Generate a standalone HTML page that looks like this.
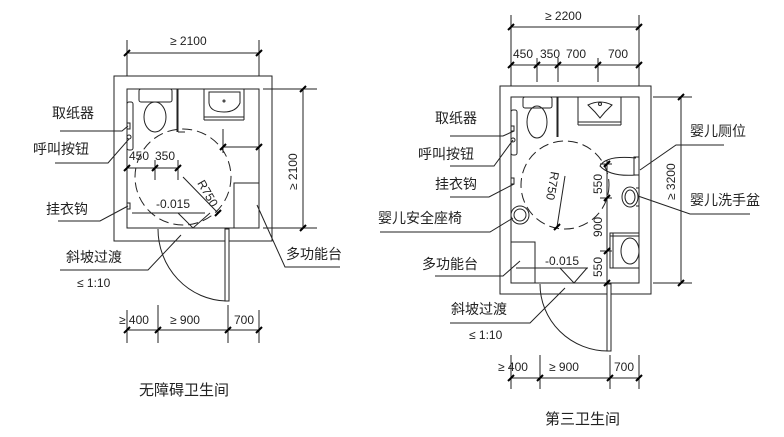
<!DOCTYPE html>
<html><head><meta charset="utf-8"><style>
html,body{margin:0;padding:0;background:#fff;}
svg{display:block}
text{font-family:"Liberation Sans","Noto Sans CJK SC",sans-serif;fill:#222}
.l{font-size:14px}
.d{font-size:12px}
</style></head><body>
<svg width="784" height="437" viewBox="0 0 784 437" xmlns="http://www.w3.org/2000/svg">
<defs>
<g id="tk"><line x1="-3" y1="3" x2="3" y2="-3" stroke="#000" stroke-width="2"/></g>
</defs>
<g fill="none" stroke="#222" stroke-width="1">
<!-- ===== LEFT ===== -->
<rect x="114" y="76" width="158" height="165"/>
<rect x="127" y="89" width="132" height="139"/>
<line x1="127" y1="40" x2="127" y2="76"/><line x1="259" y1="40" x2="259" y2="76"/>
<line x1="127" y1="53" x2="259" y2="53"/>
<line x1="263" y1="89" x2="317" y2="89"/><line x1="263" y1="228" x2="317" y2="228"/>
<line x1="303" y1="89" x2="303" y2="228"/>
<line x1="127" y1="310" x2="127" y2="343"/><line x1="158" y1="305" x2="158" y2="343"/>
<line x1="228" y1="305" x2="228" y2="343"/><line x1="259" y1="310" x2="259" y2="343"/>
<line x1="127" y1="330" x2="259" y2="330"/>
<rect x="225" y="229" width="4" height="72" fill="#fff"/>
<path d="M158 229 A70 72 0 0 0 226 301"/>
<rect x="139" y="89" width="33" height="13" rx="2"/>
<ellipse cx="155" cy="117" rx="11" ry="15"/>
<line x1="178" y1="89" x2="178" y2="132"/><line x1="177" y1="89" x2="177" y2="132"/>
<line x1="178" y1="132" x2="185" y2="132"/>
<path d="M204 89 V120 M244 89 V120 M204 117 H244 M204 120 H244"/>
<path d="M209 92 H240 V103 Q236 112 224 112 Q210 112 209 103 Z"/>
<circle cx="224" cy="101" r="1"/>
<rect x="127" y="102" width="6" height="48" rx="2"/>
<rect x="127" y="123" width="3" height="6"/><circle cx="129" cy="137" r="2"/>
<rect x="127" y="203" width="3" height="6"/>
<circle cx="183" cy="177" r="48" stroke-dasharray="10,5"/>
<line x1="183" y1="177" x2="218" y2="213"/>
<line x1="223" y1="129" x2="223" y2="153"/><line x1="223" y1="147" x2="259" y2="147"/>
<line x1="127" y1="168" x2="178" y2="168"/>
<line x1="155" y1="160" x2="155" y2="180"/><line x1="178" y1="160" x2="178" y2="180"/>
<rect x="234" y="183" width="25" height="45"/>
<line x1="132" y1="213" x2="205" y2="213"/>
<path d="M178 213 L193 228 L210 213"/>
<path d="M60 131 H122 L128 126"/>
<path d="M55 163 H108 L129 139"/>
<path d="M58 221 H100 L128 206"/>
<path d="M60 270 H148 L181 235"/>
<path d="M340 267 H285 L257 205"/>
</g>
<g>
<use href="#tk" x="127" y="53"/><use href="#tk" x="259" y="53"/>
<use href="#tk" x="303" y="89"/><use href="#tk" x="303" y="228"/>
<use href="#tk" x="127" y="330"/><use href="#tk" x="158" y="330"/><use href="#tk" x="228" y="330"/><use href="#tk" x="259" y="330"/>
<use href="#tk" x="127" y="168"/><use href="#tk" x="155" y="168"/><use href="#tk" x="178" y="168"/>
<use href="#tk" x="223" y="147"/><use href="#tk" x="259" y="147"/><use href="#tk" x="218" y="213"/>
</g>
<text class="d" x="170" y="45">≥ 2100</text>
<text class="d" transform="translate(297,190) rotate(-90)">≥ 2100</text>
<text class="d" x="119" y="324">≥ 400</text>
<text class="d" x="170" y="324">≥ 900</text>
<text class="d" x="234" y="324">700</text>
<text class="d" x="129" y="160">450</text>
<text class="d" x="155" y="160">350</text>
<text class="d" transform="translate(197,183) rotate(60)">R750</text>
<text class="d" x="156" y="208">-0.015</text>
<text class="l" x="52" y="118">取纸器</text>
<text class="l" x="33" y="154">呼叫按钮</text>
<text class="l" x="46" y="214">挂衣钩</text>
<text class="l" x="66" y="262">斜坡过渡</text>
<text class="d" x="77" y="287">≤ 1:10</text>
<text class="l" x="286" y="259">多功能台</text>
<text x="139" y="395" style="font-size:15px">无障碍卫生间</text>

<g fill="none" stroke="#222" stroke-width="1">
<!-- ===== RIGHT ===== -->
<rect x="500" y="86" width="151" height="208"/>
<rect x="511" y="97" width="128" height="186"/>
<line x1="511" y1="15" x2="511" y2="86"/><line x1="639" y1="15" x2="639" y2="86"/>
<line x1="511" y1="27" x2="639" y2="27"/>
<line x1="511" y1="65" x2="639" y2="65"/>
<line x1="537" y1="58" x2="537" y2="82"/><line x1="558" y1="58" x2="558" y2="82"/><line x1="598" y1="58" x2="598" y2="82"/>
<line x1="653" y1="97" x2="692" y2="97"/><line x1="653" y1="283" x2="692" y2="283"/>
<line x1="681" y1="97" x2="681" y2="283"/>
<line x1="607" y1="160" x2="607" y2="290"/>
<line x1="600" y1="164" x2="612" y2="164"/><line x1="600" y1="198" x2="612" y2="198"/><line x1="600" y1="251" x2="612" y2="251"/>
<line x1="511" y1="355" x2="511" y2="389"/><line x1="540" y1="355" x2="540" y2="389"/>
<line x1="610" y1="355" x2="610" y2="389"/><line x1="639" y1="355" x2="639" y2="389"/>
<line x1="511" y1="378" x2="639" y2="378"/>
<rect x="607" y="284" width="4" height="67" fill="#fff"/>
<path d="M540 284 A68 67 0 0 0 608 351"/>
<rect x="523" y="97" width="29" height="11" rx="2"/>
<ellipse cx="537" cy="122" rx="10" ry="16"/>
<line x1="558" y1="97" x2="558" y2="137"/><line x1="557" y1="97" x2="557" y2="137"/>
<path d="M578 97 V125 M621 97 V125 M578 122 H621 M578 125 H621"/>
<path d="M588 105 Q600 99 612 105 L605 112 L600 118 L595 112 Z"/>
<circle cx="600" cy="104" r="1.5"/>
<path d="M636 158 Q606 155 600 166 Q610 177 636 175"/>
<rect x="634" y="157" width="5" height="18"/>
<ellipse cx="630" cy="197" rx="8" ry="10"/><ellipse cx="630" cy="197" rx="5" ry="7"/>
<line x1="636" y1="188" x2="639" y2="188"/><line x1="636" y1="206" x2="639" y2="206"/>
<rect x="610" y="233" width="29" height="35"/>
<path d="M613 233 V268 M610 236 H639"/>
<ellipse cx="630" cy="251" rx="9" ry="13"/>
<rect x="511" y="110" width="6" height="45" rx="2"/>
<rect x="511" y="126" width="3" height="5"/><circle cx="513" cy="140" r="2"/>
<rect x="511" y="178" width="3" height="6"/>
<ellipse cx="520" cy="215" rx="9" ry="9"/><ellipse cx="520" cy="215" rx="6" ry="6"/>
<circle cx="565" cy="185" r="44" stroke-dasharray="10,5"/>
<line x1="565" y1="176" x2="557" y2="227"/>
<rect x="511" y="242" width="24" height="41"/>
<line x1="516" y1="268" x2="588" y2="268"/>
<path d="M560 268 L574 283 L587 268"/>
<path d="M450 136 H503 L514 131"/>
<path d="M450 166 H494 L513 140"/>
<path d="M450 197 H489 L514 184"/>
<path d="M380 232 H490 L513 218"/>
<path d="M435 276 H503 L520 261"/>
<path d="M450 323 H530 L565 288"/>
<path d="M724 145 H676 L640 170"/>
<path d="M750 214 H690 L638 196"/>
</g>
<g>
<use href="#tk" x="511" y="27"/><use href="#tk" x="639" y="27"/>
<use href="#tk" x="511" y="65"/><use href="#tk" x="537" y="65"/><use href="#tk" x="558" y="65"/><use href="#tk" x="598" y="65"/><use href="#tk" x="639" y="65"/>
<use href="#tk" x="681" y="97"/><use href="#tk" x="681" y="283"/>
<use href="#tk" x="607" y="164"/><use href="#tk" x="607" y="198"/><use href="#tk" x="607" y="251"/><use href="#tk" x="607" y="283"/>
<use href="#tk" x="511" y="378"/><use href="#tk" x="540" y="378"/><use href="#tk" x="610" y="378"/><use href="#tk" x="639" y="378"/>
<use href="#tk" x="557" y="227"/>
</g>
<text class="d" x="545" y="20">≥ 2200</text>
<text class="d" x="513" y="58">450</text>
<text class="d" x="540" y="58">350</text>
<text class="d" x="566" y="58">700</text>
<text class="d" x="608" y="58">700</text>
<text class="d" transform="translate(675,200) rotate(-90)">≥ 3200</text>
<text class="d" transform="translate(602,194) rotate(-90)">550</text>
<text class="d" transform="translate(602,237) rotate(-90)">900</text>
<text class="d" transform="translate(602,277) rotate(-90)">550</text>
<text class="d" x="498" y="371">≥ 400</text>
<text class="d" x="549" y="371">≥ 900</text>
<text class="d" x="614" y="371">700</text>
<text class="d" transform="translate(551,171) rotate(100)">R750</text>
<text class="d" x="545" y="265">-0.015</text>
<text class="l" x="435" y="123">取纸器</text>
<text class="l" x="418" y="159">呼叫按钮</text>
<text class="l" x="435" y="189">挂衣钩</text>
<text class="l" x="378" y="223">婴儿安全座椅</text>
<text class="l" x="422" y="269">多功能台</text>
<text class="l" x="451" y="314">斜坡过渡</text>
<text class="d" x="469" y="339">≤ 1:10</text>
<text class="l" x="690" y="136">婴儿厕位</text>
<text class="l" x="690" y="205">婴儿洗手盆</text>
<text x="545" y="424" style="font-size:15px">第三卫生间</text>
</svg>
</body></html>
